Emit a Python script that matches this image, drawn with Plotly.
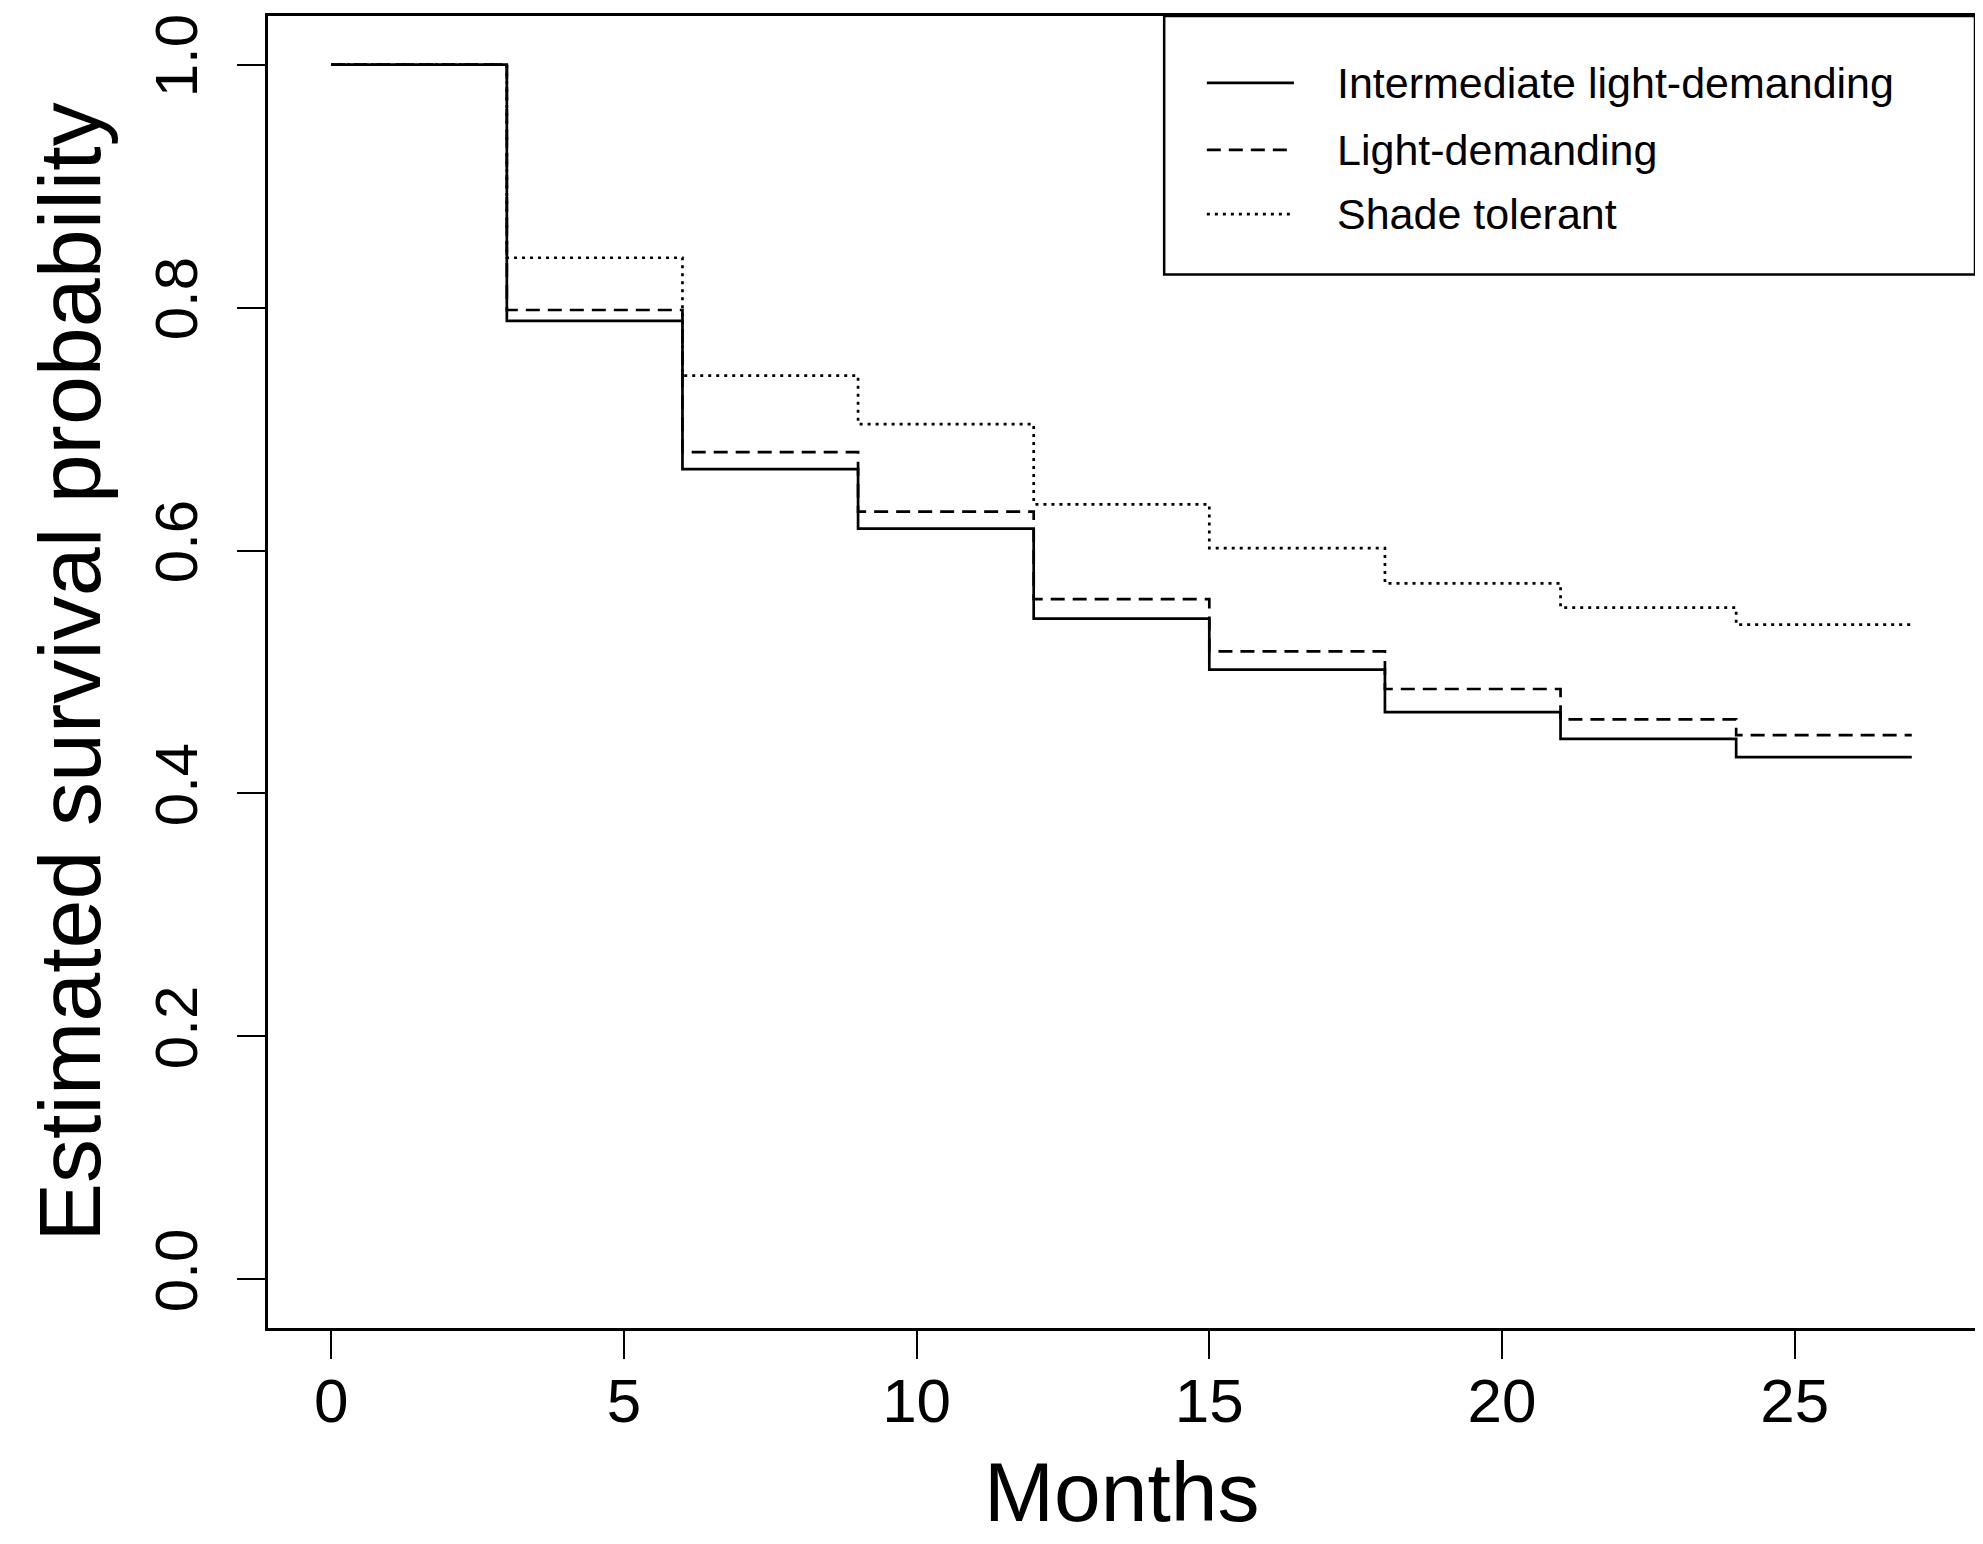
import plotly.graph_objects as go

# Kaplan-Meier style survival estimates
months = [0, 3, 6, 9, 12, 15, 18, 21, 24, 27]
intermediate = [1.0, 0.789, 0.667, 0.618, 0.544, 0.502, 0.467, 0.445, 0.430, 0.430]
light_demanding = [1.0, 0.798, 0.681, 0.632, 0.560, 0.517, 0.486, 0.461, 0.448, 0.448]
shade_tolerant = [1.0, 0.841, 0.744, 0.704, 0.638, 0.602, 0.573, 0.553, 0.539, 0.539]

group_names = ["Intermediate light-demanding", "Light-demanding", "Shade tolerant"]
group_values = [intermediate, light_demanding, shade_tolerant]
group_dash = ["solid", "14px,8px", "3px,5px"]

x_ticks = [0, 5, 10, 15, 20, 25]
y_ticks = [0.0, 0.2, 0.4, 0.6, 0.8, 1.0]

FONT = "Liberation Sans, Arial, sans-serif"

fig = go.Figure()
for name, vals, dash in zip(group_names, group_values, group_dash):
    fig.add_trace(go.Scatter(
        x=months, y=vals, mode="lines", name=name,
        line=dict(color="black", width=2.7, dash=dash, shape="hv"),
        showlegend=False,
    ))

# legend drawn like R's legend(): box, sample lines and labels
fig.add_shape(type="rect", xref="paper", yref="paper",
              x0=0.525, x1=1.0, y0=0.803, y1=1.0,
              line=dict(color="black", width=2.5), fillcolor="white", layer="below")
row_y = [0.949, 0.898, 0.849]
for name, dash, yy in zip(group_names, group_dash, row_y):
    fig.add_shape(type="line", xref="paper", yref="paper",
                  x0=0.550, x1=0.601, y0=yy, y1=yy,
                  line=dict(color="black", width=2.7, dash=dash))
    fig.add_annotation(xref="paper", yref="paper", x=0.625, y=yy,
                       text=name, showarrow=False, xanchor="left", yanchor="middle",
                       font=dict(family=FONT, size=43, color="black"))

# x-axis title as an annotation: the axis title gets squeezed by the bottom margin
fig.add_annotation(xref="paper", yref="paper", x=0.5, y=-0.125,
                   text="Months", showarrow=False, xanchor="center", yanchor="middle",
                   font=dict(family=FONT, size=84, color="black"))

# the page body adds an 8px offset, so the figure is slightly smaller than the window
fig.update_layout(
    width=1975, height=1536,
    margin=dict(l=260, r=6, t=5, b=216),
    paper_bgcolor="white", plot_bgcolor="white",
    font=dict(family=FONT, color="black"),
    showlegend=False,
)
fig.update_xaxes(
    range=[-1.08, 28.08], tickvals=x_ticks, ticktext=[str(v) for v in x_ticks],
    ticks="outside", ticklen=28, tickwidth=2, tickcolor="black",
    showline=True, mirror=True, linecolor="black", linewidth=2.5,
    showgrid=False, zeroline=False,
    tickfont=dict(size=62, family=FONT), ticklabelstandoff=-11,
)
fig.update_yaxes(
    range=[-0.04, 1.04], tickvals=y_ticks, ticktext=[f"{v:.1f}" for v in y_ticks],
    ticks="outside", ticklen=28, tickwidth=2, tickcolor="black",
    showline=True, mirror=True, linecolor="black", linewidth=2.5,
    showgrid=False, zeroline=False, tickangle=-90,
    tickfont=dict(size=60, family=FONT), ticklabelstandoff=16,
    title=dict(text="Estimated survival probability", font=dict(size=88, family=FONT), standoff=14),
)

fig.write_html("out.html")
